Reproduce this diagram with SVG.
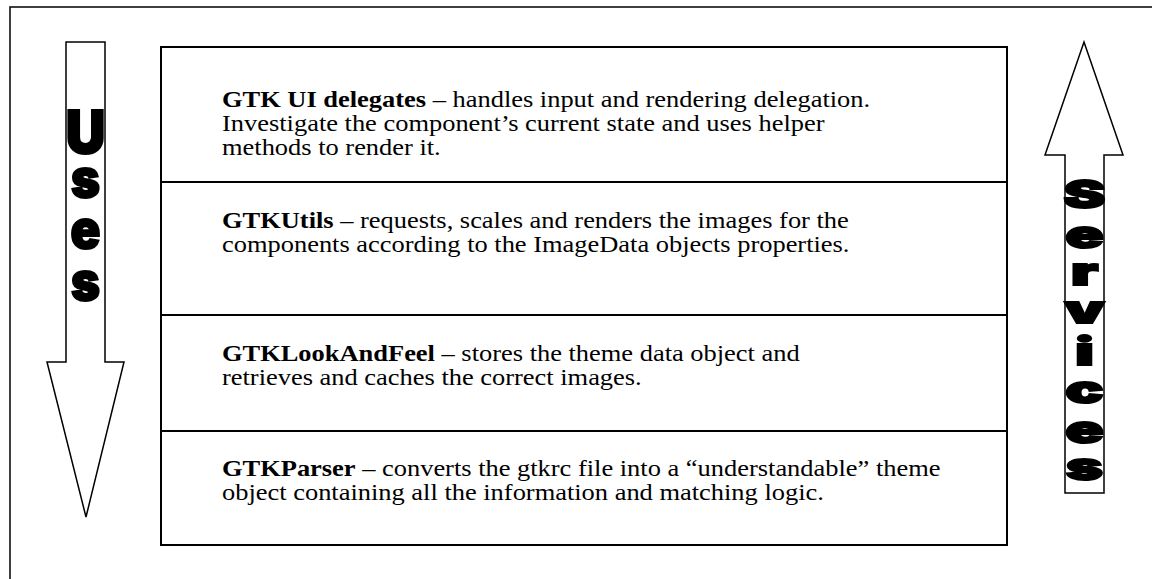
<svg xmlns="http://www.w3.org/2000/svg" width="1152" height="579" viewBox="0 0 1152 579">
  <style>
    .frame { fill: #ffffff; stroke: #000000; stroke-width: 1.5; }
    .box { fill: #ffffff; stroke: #000000; stroke-width: 2; }
    .div { stroke: #000000; stroke-width: 2; }
    .arrow { fill: #ffffff; stroke: #000000; stroke-width: 1.5; stroke-linejoin: miter; }
    .t { font-family: "Liberation Serif", "Times New Roman", serif; font-size: 23px; fill: #000000; }
    .b { font-weight: bold; }
    .big { font-family: "Inter", "Roboto", "DejaVu Sans", sans-serif; font-weight: 900; fill: #000000; stroke: #000000; stroke-width: 2; text-anchor: middle; }
    .u1 { font-size: 59px; }
    .u2 { font-size: 53px; }
    .s1 { font-size: 38px; }
  </style>
  <rect class="frame" x="10" y="7" width="1160" height="590"/>

  <g id="connectors">
    <g id="uses-arrow">
      <polygon class="arrow" points="66,42 105,42 105,362 124,362 86,517 47,362 66,362"/>
      <text class="big" transform="translate(85.5,0) scale(0.93,1)"><tspan class="u1" x="0" y="153">U</tspan><tspan class="u2" x="0" y="197">s</tspan><tspan class="u2" x="0" y="248">e</tspan><tspan class="u2" x="0" y="300">s</tspan></text>
    </g>
    <g id="services-arrow">
      <polygon class="arrow" points="1084,42 1123,155 1104,155 1104,493 1065,493 1065,155 1045,155"/>
      <text class="big s1" transform="translate(1084.5,0) scale(1.65,1)"><tspan x="0" y="208">S</tspan><tspan x="0" y="248">e</tspan><tspan x="0" y="285">r</tspan><tspan x="0" y="323">v</tspan><tspan x="0" y="365">i</tspan><tspan x="0" y="403">c</tspan><tspan x="0" y="443">e</tspan><tspan x="0" y="480">s</tspan></text>
    </g>
  </g>

  <g id="stack">
    <rect class="box" x="161" y="47" width="846" height="498"/>
    <g id="gtk-ui-delegates" transform="translate(222,0) scale(1.15,1)">
      <text class="t" x="0" y="107"><tspan class="b">GTK UI delegates</tspan> – handles input and rendering delegation.</text>
      <text class="t" x="0" y="131">Investigate the component’s current state and uses helper</text>
      <text class="t" x="0" y="155">methods to render it.</text>
    </g>
    <line class="div" x1="161" y1="182" x2="1007" y2="182"/>
    <g id="gtkutils" transform="translate(222,0) scale(1.15,1)">
      <text class="t" x="0" y="228"><tspan class="b">GTKUtils</tspan> – requests, scales and renders the images for the</text>
      <text class="t" x="0" y="252">components according to the ImageData objects properties.</text>
    </g>
    <line class="div" x1="161" y1="315" x2="1007" y2="315"/>
    <g id="gtklookandfeel" transform="translate(222,0) scale(1.15,1)">
      <text class="t" x="0" y="361"><tspan class="b">GTKLookAndFeel</tspan> – stores the theme data object and</text>
      <text class="t" x="0" y="385">retrieves and caches the correct images.</text>
    </g>
    <line class="div" x1="161" y1="431" x2="1007" y2="431"/>
    <g id="gtkparser" transform="translate(222,0) scale(1.15,1)">
      <text class="t" x="0" y="476"><tspan class="b">GTKParser</tspan> – converts the gtkrc file into a “understandable” theme</text>
      <text class="t" x="0" y="500">object containing all the information and matching logic.</text>
    </g>
  </g>
</svg>
